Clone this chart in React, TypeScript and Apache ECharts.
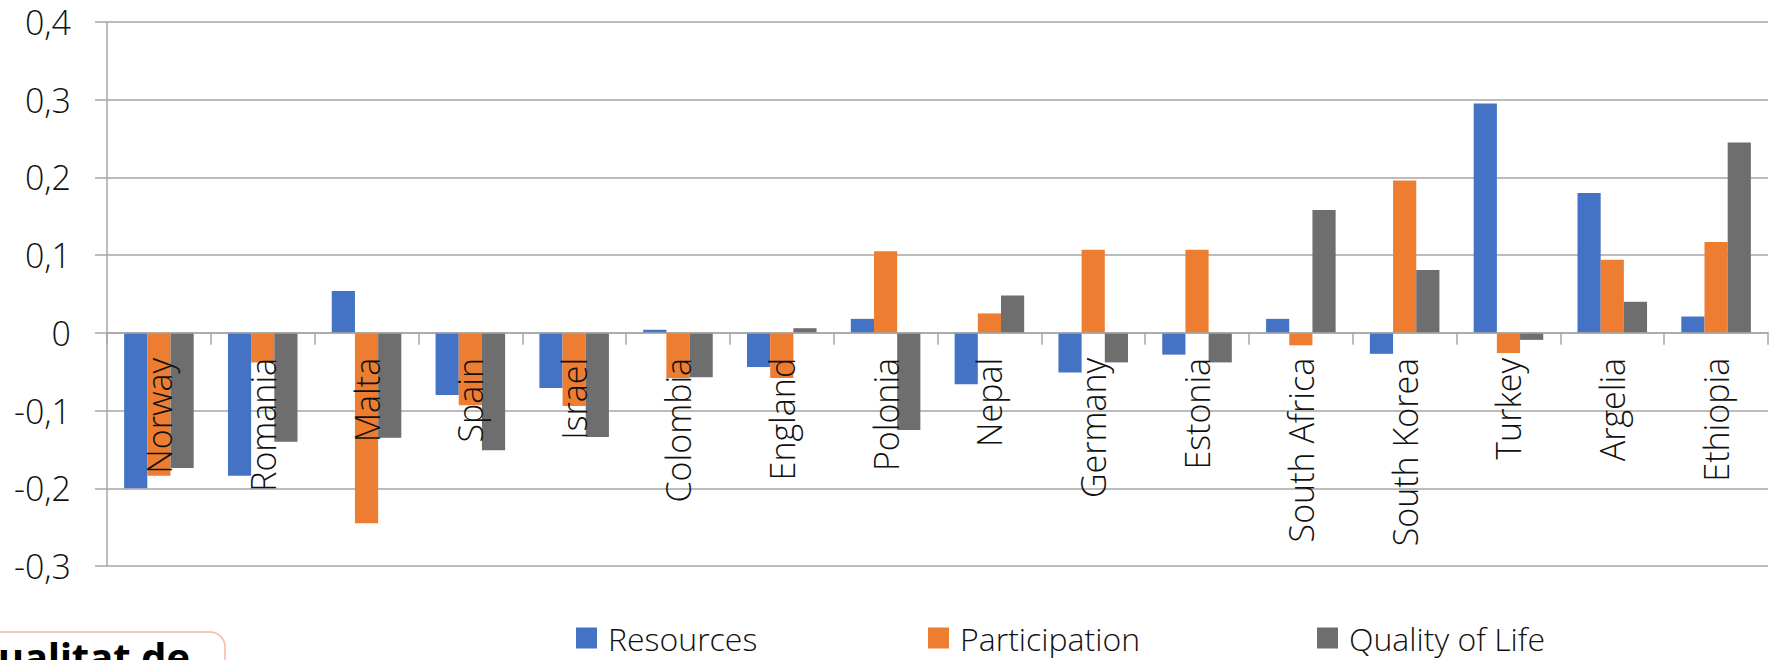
import React, { useEffect, useRef } from "react";
import * as echarts from "echarts";

const categories = [
  "Norway", "Romania", "Malta", "Spain", "Israel", "Colombia", "England", "Polonia",
  "Nepal", "Germany", "Estonia", "South Africa", "South Korea", "Turkey", "Argelia", "Ethiopia",
];
const resources = [-0.2, -0.184, 0.054, -0.08, -0.071, 0.004, -0.044, 0.018, -0.066, -0.051, -0.028, 0.018, -0.027, 0.295, 0.18, 0.021];
const participation = [-0.184, -0.038, -0.245, -0.093, -0.094, -0.058, -0.058, 0.105, 0.025, 0.107, 0.107, -0.016, 0.196, -0.026, 0.094, 0.117];
const qualityOfLife = [-0.174, -0.14, -0.135, -0.151, -0.134, -0.057, 0.006, -0.125, 0.048, -0.038, -0.038, 0.158, 0.081, -0.009, 0.04, 0.245];
const seriesNames = ["Resources", "Participation", "Quality of Life"];
const colors = ["#4472C4", "#ED7D31", "#6E6E6E"];
const yMin = -0.3;
const yMax = 0.4;
const yStep = 0.1;

const FONT = "'Open Sans', 'Noto Sans', sans-serif";
const W = 1770;
const H = 660;
const GRID = { left: 107, right: 2, top: 22, bottom: 94 };
const legendLefts = [571, 923, 1312];

export default function App() {
  const ref = useRef<HTMLDivElement>(null);
  useEffect(() => {
    document.body.style.margin = "0";
    const chart = echarts.init(ref.current!, undefined, { renderer: "svg" });
    const data = [resources, participation, qualityOfLife];
    const plotH = H - GRID.top - GRID.bottom;
    const zeroOffset = -((0 - yMin) / (yMax - yMin)) * plotH;
    chart.setOption({
      animation: false,
      textStyle: { fontFamily: FONT },
      grid: { ...GRID, containLabel: false, outerBoundsMode: "none" },
      legend: seriesNames.map((name, i) => ({
        left: legendLefts[i],
        top: 617,
        icon: "rect",
        itemWidth: 21,
        itemHeight: 21,
        textStyle: {
          fontSize: 32,
          lineHeight: 30,
          color: "#111",
          fontWeight: 300,
          fontFamily: FONT,
          padding: [0, 0, 0, 6],
        },
        data: [name],
      })),
      xAxis: {
        type: "category",
        data: categories,
        z: 10,
        position: "bottom",
        offset: zeroOffset,
        axisLine: { onZero: false, lineStyle: { color: "#A6A6A6", width: 1.5 } },
        axisTick: { show: true, length: 12, alignWithLabel: false, lineStyle: { color: "#A6A6A6", width: 1.5 } },
        axisLabel: { rotate: 90, margin: 25, interval: 0, fontSize: 34, color: "#111", fontWeight: 300 },
        splitLine: { show: false },
      },
      yAxis: {
        type: "value",
        min: yMin,
        max: yMax,
        interval: yStep,
        axisLine: { show: true, lineStyle: { color: "#A6A6A6", width: 1.5 } },
        axisTick: { show: true, length: 12, lineStyle: { color: "#A6A6A6", width: 1.5 } },
        axisLabel: {
          margin: 36,
          fontSize: 34,
          color: "#111",
          fontWeight: 300,
          formatter: (v: number) => (Math.round(v * 10) / 10).toString().replace(".", ","),
        },
        splitLine: { show: true, lineStyle: { color: "#A6A6A6", width: 1.5 } },
      },
      series: seriesNames.map((name, i) => ({
        name,
        type: "bar",
        data: data[i],
        barGap: "0%",
        barCategoryGap: "33%",
        itemStyle: { color: colors[i] },
      })),
      graphic: [
        {
          type: "rect",
          shape: { x: -20, y: 632, width: 245, height: 60, r: 15 },
          style: { fill: "#fff", stroke: "#F4B9A0", lineWidth: 1.5 },
          z: 20,
        },
        {
          type: "text",
          x: -2,
          y: 656,
          z: 21,
          style: {
            text: "ualitat de",
            fontSize: 40,
            fontWeight: "bold",
            fontFamily: "'Noto Sans', sans-serif",
            fill: "#000",
            verticalAlign: "middle",
            align: "left",
          },
        },
      ],
    });
    return () => chart.dispose();
  }, []);
  return <div ref={ref} style={{ width: W, height: H }} />;
}
